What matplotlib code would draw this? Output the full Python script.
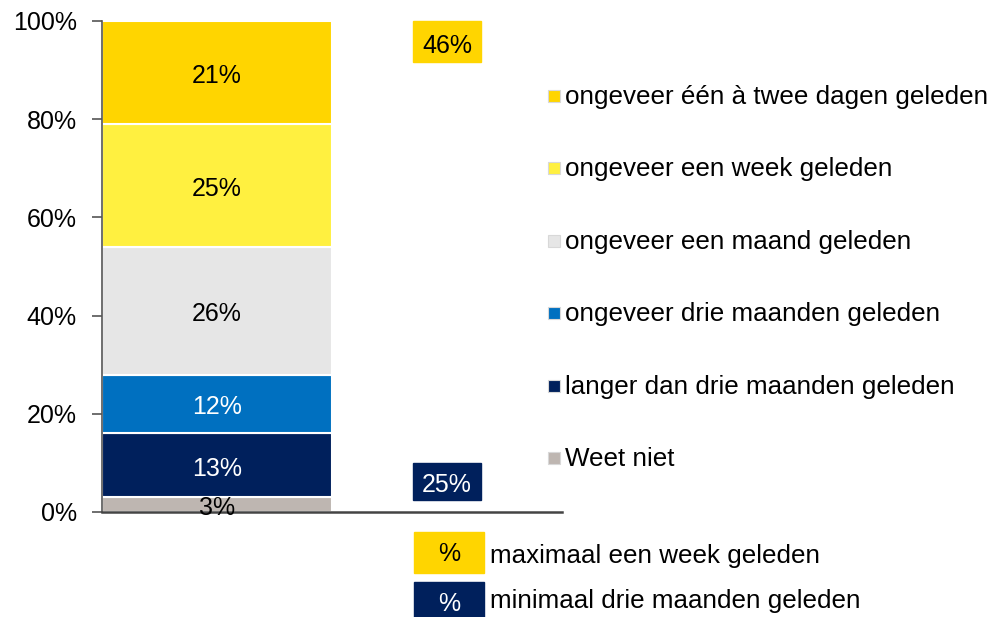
import matplotlib
matplotlib.use("Agg")
import matplotlib.pyplot as plt
from matplotlib.patches import Rectangle

plt.rcParams['font.family'] = ['Liberation Sans', 'DejaVu Sans']

# stack order bottom -> top
categories = ["Weet niet",
              "langer dan drie maanden geleden",
              "ongeveer drie maanden geleden",
              "ongeveer een maand geleden",
              "ongeveer een week geleden",
              "ongeveer één à twee dagen geleden"]
values = [3, 13, 12, 26, 25, 21]
colors = ["#BEB6B1", "#00205C", "#0070C0", "#E6E6E6", "#FFF040", "#FFD500"]
text_colors = ["black", "white", "white", "black", "black", "black"]

summary_labels = ["maximaal een week geleden", "minimaal drie maanden geleden"]
summary_colors = ["#FFD500", "#00205C"]
summary_text_colors = ["black", "white"]
max_week = values[4] + values[5]
min_three_months = values[1] + values[2]

FS = 18

fig = plt.figure(figsize=(9.96, 6.17), dpi=100)
ax = fig.add_axes([0.1024, 0.1702, 0.4618, 0.7958])

bottom = 0
for v, c, tc in zip(values, colors, text_colors):
    ax.bar(0.25, v, width=0.5, bottom=bottom, color=c, edgecolor="white", linewidth=1.5)
    ax.text(0.25, bottom + v / 2 - 0.7, "%d%%" % v, ha="center", va="center", fontsize=FS, color=tc)
    bottom += v

ax.set_xlim(0, 1)
ax.set_ylim(0, 100)
ax.set_yticks([0, 20, 40, 60, 80, 100])
ax.set_yticklabels(["%d%%" % t for t in [0, 20, 40, 60, 80, 100]], fontsize=FS)
ax.set_xticks([])
ax.tick_params(axis="y", length=7, width=1.2, color="#555555", pad=11)
for s in ["top", "right"]:
    ax.spines[s].set_visible(False)
ax.spines["left"].set_color("#555555")
ax.spines["left"].set_linewidth(1.2)
ax.spines["bottom"].set_color("#444444")
ax.spines["bottom"].set_linewidth(1.8)

# summary boxes on the chart
ax.add_patch(Rectangle((0.676, 91.6), 0.148, 8.4, color=summary_colors[0], clip_on=False))
ax.text(0.75, 95.0, "%d%%" % max_week, ha="center", va="center", fontsize=FS, color="black")
ax.add_patch(Rectangle((0.676, 2.4), 0.148, 7.6, color=summary_colors[1], clip_on=False))
ax.text(0.75, 5.5, "%d%%" % min_three_months, ha="center", va="center", fontsize=FS, color="white")

# legend (top to bottom)
W, H = 996.0, 617.0
rows_y = [96, 168, 241, 313, 386, 458]
for i, y in enumerate(rows_y):
    k = len(categories) - 1 - i
    fig.add_artist(Rectangle((548 / W, 1 - (y + 6) / H), 12 / W, 12 / H,
                             facecolor=colors[k], edgecolor="#d8d8d8", linewidth=0.8,
                             transform=fig.transFigure))
    fig.text(565 / W, 1 - (y + 1) / H, categories[k], ha="left", va="center", fontsize=18.7)

# bottom legend
label_y = [556, 601]
for i, (lab, c, tc) in enumerate(zip(summary_labels, summary_colors, summary_text_colors)):
    top = 532 + i * 50
    fig.add_artist(Rectangle((414 / W, 1 - (top + 41) / H), 70 / W, 41 / H,
                             color=c, transform=fig.transFigure))
    fig.text(449 / W, 1 - (top + 22) / H, "%", ha="center", va="center", fontsize=FS, color=tc)
    fig.text(490 / W, 1 - label_y[i] / H, lab, ha="left", va="center", fontsize=18.7)

fig.savefig("out.png", dpi=100)
